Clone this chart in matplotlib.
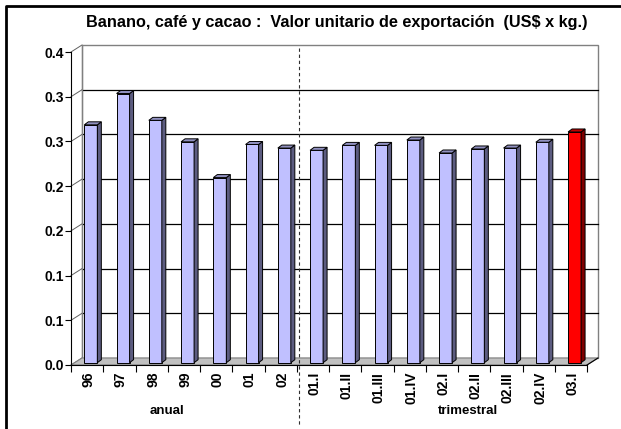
import matplotlib
matplotlib.use("Agg")
import matplotlib.pyplot as plt
from matplotlib.patches import Polygon
from matplotlib.lines import Line2D
import numpy as np

plt.rcParams['font.family'] = ['Liberation Sans', 'DejaVu Sans']

title = "Banano, café y cacao :  Valor unitario de exportación  (US$ x kg.)"
categories = ["96", "97", "98", "99", "00", "01", "02",
              "01.I", "01.II", "01.III", "01.IV", "02.I", "02.II", "02.III", "02.IV", "03.I"]
values = [0.266, 0.301, 0.271, 0.247, 0.207, 0.244, 0.240,
          0.2375, 0.243, 0.243, 0.249, 0.2345, 0.239, 0.240, 0.2465, 0.258]
highlight = [False] * 15 + [True]
y_ticks = [0.0, 0.05, 0.10, 0.15, 0.20, 0.25, 0.30, 0.35]
y_tick_labels = ["0.0", "0.1", "0.1", "0.2", "0.2", "0.3", "0.3", "0.4"]
group_labels = ["anual", "trimestral"]

W, H = 621, 429
fig = plt.figure(figsize=(W / 100, H / 100), dpi=100)
fig.patch.set_facecolor('white')

ax_l, ax_r, ax_b, ax_t = 71, 587, 365, 52
ax = fig.add_axes([ax_l / W, 1 - ax_b / H, (ax_r - ax_l) / W, (ax_b - ax_t) / H])
n = len(categories)
ymax = 0.35
ax.set_xlim(-0.5, n - 0.5)
ax.set_ylim(0, ymax)
ax.set_facecolor('none')

pxx = (ax_r - ax_l) / n
pxy = (ax_b - ax_t) / ymax
# depth offsets in data units
dxb, dyb = 11 / pxx, 7 / pxy          # back wall
idx, idy = 3.7 / pxx, 2.3 / pxy       # bar inset
bdx, bdy = 4.0 / pxx, 3.0 / pxy       # bar depth
bw = 13 / pxx

x0, x1 = -0.5, n - 0.5
# floor
ax.add_patch(Polygon([(x0, 0), (x1, 0), (x1 + dxb, dyb), (x0 + dxb, dyb)],
                     closed=True, facecolor='#c0c0c0', edgecolor='#808080',
                     lw=0.8, clip_on=False, zorder=1))
ax.add_line(Line2D([x1, x1 + dxb], [0, dyb], color='black', lw=0.8, clip_on=False, zorder=1.1))
# back wall
ax.add_patch(Polygon([(x0 + dxb, dyb), (x1 + dxb, dyb), (x1 + dxb, ymax + dyb), (x0 + dxb, ymax + dyb)],
                     closed=True, facecolor='white', edgecolor='#808080', lw=1.0,
                     clip_on=False, zorder=0.5))
# gridlines on back wall and left wall diagonals
for t in y_ticks[1:-1]:
    ax.add_line(Line2D([x0 + dxb, x1 + dxb], [t + dyb, t + dyb], color='black', lw=0.9,
                       clip_on=False, zorder=0.8))
for t in y_ticks:
    ax.add_line(Line2D([x0, x0 + dxb], [t, t + dyb], color='#606060', lw=0.7,
                       clip_on=False, zorder=0.8))
ax.add_line(Line2D([x0 + dxb, x0 + dxb], [dyb, ymax + dyb], color='#808080', lw=0.9,
                   clip_on=False, zorder=0.8))

# bars
xs = np.arange(n) + idx
for xi, v, hl in zip(xs, values, highlight):
    front = '#ff0000' if hl else '#c0c0ff'
    side = '#800000' if hl else '#5c5c80'
    top = '#c00000' if hl else '#9090c0'
    ax.bar(xi, v, width=bw, bottom=idy, color=front, edgecolor='black', lw=0.7, zorder=3)
    r = xi + bw / 2
    l = xi - bw / 2
    ax.add_patch(Polygon([(r, idy), (r + bdx, idy + bdy), (r + bdx, idy + v + bdy), (r, idy + v)],
                         closed=True, facecolor=side, edgecolor='black', lw=0.7, zorder=3, clip_on=False))
    ax.add_patch(Polygon([(l, idy + v), (r, idy + v), (r + bdx, idy + v + bdy), (l + bdx, idy + v + bdy)],
                         closed=True, facecolor=top, edgecolor='black', lw=0.7, zorder=3, clip_on=False))

# axes spines and ticks
for s in ['top', 'right']:
    ax.spines[s].set_visible(False)
ax.spines['left'].set_color('black')
ax.spines['bottom'].set_color('black')
ax.spines['left'].set_linewidth(0.8)
ax.spines['bottom'].set_linewidth(0.8)
ax.set_yticks(y_ticks)
ax.set_yticklabels(y_tick_labels, fontsize=10, fontweight='bold')
ax.tick_params(axis='y', direction='out', length=4, width=0.8, pad=1)
ax.set_xticks(np.arange(n + 1) - 0.5)
ax.set_xticklabels([])
ax.set_xticks(np.arange(n) + 0.05, minor=True)
ax.set_xticklabels(categories, minor=True, rotation=90, fontsize=10, fontweight='bold')
ax.tick_params(axis='x', which='major', direction='out', length=5, width=0.8)
ax.tick_params(axis='x', which='minor', length=0, pad=5)

# group labels
fig.text(167 / W, 1 - 411 / H, group_labels[0], ha='center', va='center', fontsize=9.5, fontweight='bold')
fig.text(468 / W, 1 - 411 / H, group_labels[1], ha='center', va='center', fontsize=9.5, fontweight='bold')

# dashed separator
fig.add_artist(Line2D([299.3 / W, 299.3 / W], [1 - 48 / H, 1 - 426 / H], transform=fig.transFigure,
                      color='#303030', lw=0.8, linestyle=(0, (3, 2.5)), zorder=5))

# title
fig.text(337 / W, 1 - 23 / H, title, ha='center', va='center', fontsize=11.7, fontweight='bold')

# outer border (left and top only visible)
fig.add_artist(Line2D([6 / W, 6 / W, 1.01], [-0.01, 1 - 6 / H, 1 - 6 / H],
                      transform=fig.transFigure, color='black', lw=2))

fig.savefig('out.png', dpi=100)
